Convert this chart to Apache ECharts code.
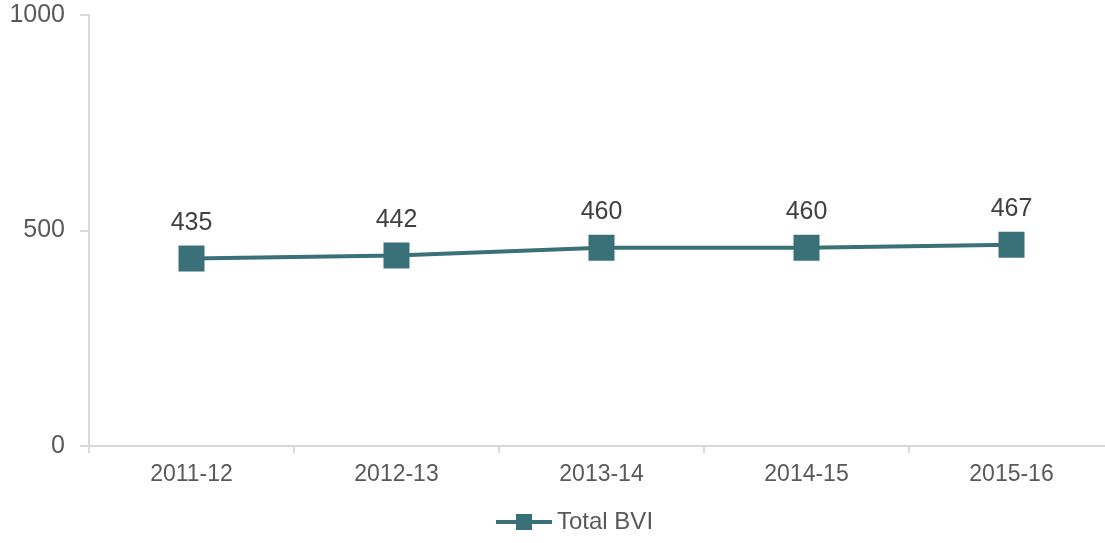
<!DOCTYPE html>
<html>
<head>
<meta charset="utf-8">
<script src="https://cdn.jsdelivr.net/npm/echarts@6/dist/echarts.min.js"></script>
<style>
  html, body { margin: 0; padding: 0; background: #fff; }
  #chart { width: 1105px; height: 543px; }
</style>
</head>
<body>
<div id="chart"></div>
<script>
  // 数据
  var years = ["2011-12", "2012-13", "2013-14", "2014-15", "2015-16"];
  var totalBVI = [435, 442, 460, 460, 467];
  var seriesName = "Total BVI";

  var chart = echarts.init(document.getElementById("chart"));
  var option = {
    animation: false,
    textStyle: { fontFamily: "Liberation Sans, Arial, sans-serif" },
    grid: { left: 89, top: 15, right: -9, bottom: 97, containLabel: false, outerBoundsMode: "none" },
    legend: {
      bottom: 4,
      left: 489,
      itemWidth: 56,
      itemHeight: 20,
      itemGap: 10,
      lineStyle: { width: 4 },
      textStyle: { fontSize: 24, color: "#595959", fontFamily: "Liberation Sans, Arial, sans-serif" },
      data: [seriesName]
    },
    xAxis: {
      type: "category",
      data: years,
      boundaryGap: true,
      axisLine: { lineStyle: { color: "#d9d9d9", width: 2 } },
      axisTick: { show: true, length: 7, lineStyle: { color: "#d9d9d9", width: 2 } },
      axisLabel: { fontSize: 23, color: "#595959", margin: 17 }
    },
    yAxis: {
      type: "value",
      min: 0,
      max: 1000,
      interval: 500,
      splitLine: { show: false },
      axisLine: { show: true, lineStyle: { color: "#d9d9d9", width: 2 } },
      axisTick: { show: true, length: 9, lineStyle: { color: "#d9d9d9", width: 2 } },
      axisLabel: { fontSize: 25, color: "#595959", margin: 24, formatter: function (v) { return String(v); } }
    },
    series: [
      {
        name: seriesName,
        type: "line",
        data: totalBVI,
        symbol: "rect",
        symbolSize: 26,
        itemStyle: { color: "#3a7178" },
        lineStyle: { color: "#3a7178", width: 4 },
        label: {
          show: true,
          position: "top",
          distance: 10,
          fontSize: 25,
          color: "#404040"
        }
      }
    ]
  };
  chart.setOption(option);
</script>
</body>
</html>
